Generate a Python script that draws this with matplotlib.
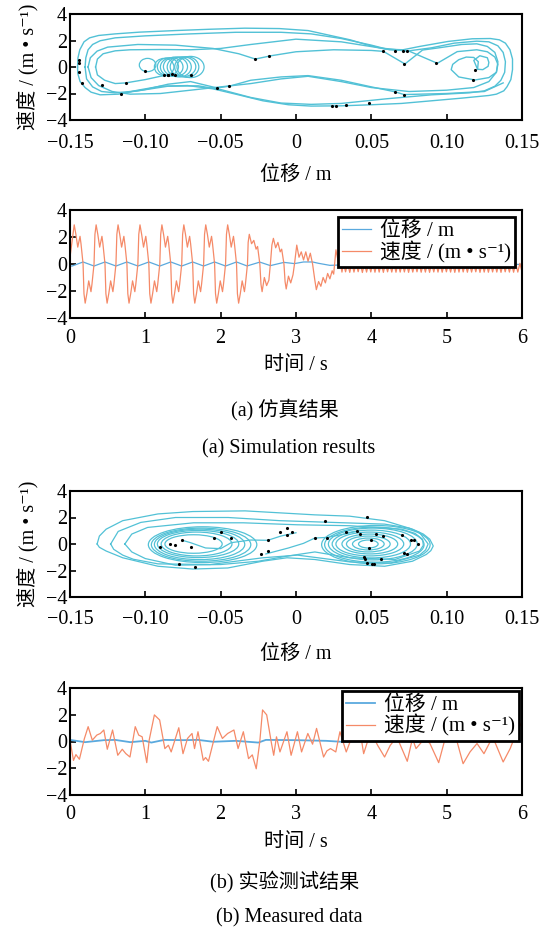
import numpy as np
import matplotlib.pyplot as plt
from matplotlib.patches import Ellipse

plt.rcParams['font.family'] = ['Liberation Serif', 'Noto Sans CJK SC', 'DejaVu Serif']
plt.rcParams['axes.unicode_minus'] = True

cyan = '#52c1d6'
c_disp = '#5aa9de'
c_vel = '#f58a68'

# ---------------- simulated phase portrait (x in m, v in m/s) ----------------
simA_x = [-0.145, -0.1447, -0.1435, -0.1407, -0.137, -0.131, -0.12, -0.104, -0.080, -0.057, -0.034,
          -0.011, 0.008, 0.024, 0.036, 0.047, 0.059, 0.071, 0.082, 0.101, 0.117, 0.129, 0.135, 0.139,
          0.142, 0.1437, 0.1437, 0.1426, 0.14, 0.1379, 0.133, 0.128, 0.11, 0.09, 0.07, 0.05, 0.03, 0.01,
          -0.005, -0.022, -0.04, -0.055, -0.072, -0.09, -0.105, -0.118, -0.13, -0.136, -0.14, -0.1433,
          -0.1448, -0.145]
simA_v = [0.0, 0.7, 1.3, 1.9, 2.2, 2.38, 2.5, 2.63, 2.75, 2.85, 2.93,
          2.9, 2.75, 2.35, 2.05, 1.68, 1.35, 1.3, 1.55, 1.93, 2.13, 2.15, 2.05, 1.8,
          1.3, 0.6, -0.2, -0.95, -1.5, -1.8, -2.05, -2.15, -2.35, -2.55, -2.75, -2.85, -2.93, -2.95,
          -2.85, -2.55, -2.05, -1.65, -1.4, -1.45, -1.75, -2.05, -2.1, -1.9, -1.55, -1.1,
          -0.5, 0.0]

simB_x = [-0.14, -0.1395, -0.138, -0.135, -0.13, -0.12, -0.1, -0.07, -0.04, -0.01, 0.01, 0.03, 0.05,
          0.062, 0.075, 0.09, 0.105, 0.12, 0.128, 0.134, 0.1375, 0.139, 0.1385, 0.136, 0.132, 0.125,
          0.115, 0.09, 0.06, 0.03, 0.01, -0.01, -0.03, -0.05, -0.065, -0.085, -0.105, -0.12, -0.129,
          -0.135, -0.139, -0.14]
simB_v = [0.0, 0.7, 1.3, 1.7, 1.98, 2.2, 2.35, 2.5, 2.62, 2.62, 2.5, 2.15, 1.65,
          1.3, 1.22, 1.45, 1.8, 1.95, 1.9, 1.6, 1.1, 0.4, -0.4, -1.0, -1.45, -1.8,
          -1.95, -2.1, -2.4, -2.75, -2.82, -2.72, -2.3, -1.7, -1.42, -1.45, -1.8, -1.95, -1.85,
          -1.5, -0.9, 0.0]

simC_x = [-0.138, -0.1365, -0.132, -0.125, -0.105, -0.08, -0.055, -0.038, -0.027, -0.0165, 0.0,
          0.025, 0.05, 0.058, 0.0723, 0.084, 0.095, 0.11, 0.12, 0.127, 0.132, 0.134, 0.133, 0.128,
          0.118, 0.1, 0.075, 0.05, 0.03, 0.008, -0.01, -0.03, -0.05, -0.07, -0.09, -0.11, -0.122,
          -0.131, -0.136, -0.138]
simC_v = [0.0, 0.7, 1.2, 1.5, 1.7, 1.65, 1.4, 1.0, 0.6, 0.85, 1.15,
          1.3, 1.25, 1.18, 0.23, 1.28, 1.45, 1.7, 1.75, 1.55, 1.1, 0.4, -0.4, -1.1,
          -1.55, -1.75, -1.85, -1.55, -1.1, -0.7, -0.9, -1.25, -1.5, -1.75, -2.0, -2.05, -1.85,
          -1.4, -0.8, 0.0]

simD_x = [-0.133, -0.1318, -0.128, -0.12, -0.11, -0.09, -0.07, -0.05, -0.03, 0.0, 0.03, 0.055, 0.075,
          0.0938, 0.107, 0.12, 0.127, 0.132, 0.134, 0.133, 0.128, 0.1188, 0.108, 0.103, 0.104, 0.108,
          0.113, 0.118, 0.121, 0.1205]
simD_v = [0.0, 0.6, 1.0, 1.22, 1.3, 1.32, 1.3, 1.4, 1.7, 2.1, 1.9, 1.45, 1.2,
          0.28, 1.16, 1.3, 1.15, 0.75, 0.2, -0.4, -0.8, -0.98, -0.75, -0.2, 0.2, 0.55,
          0.75, 0.72, 0.4, -0.17]

simE_x = [-0.133, -0.1318, -0.127, -0.12, -0.113, -0.1, -0.09, -0.085, -0.08]
simE_v = [0.0, -0.6, -1.0, -1.25, -1.2, -0.95, -0.7, -0.6, -0.55]

simF_x = [-0.1163, -0.1, -0.085, -0.07, -0.0525, -0.0443, -0.03, -0.01, 0.008, 0.03, 0.05, 0.066,
          0.0717, 0.1, 0.125, 0.1375]
simF_v = [-2.0, -1.7, -1.3, -1.1, -1.58, -1.45, -1.0, -0.75, -0.65, -1.0, -1.5, -1.88,
          -2.08, -2.0, -1.85, -1.2]

heart_x = [0.1205, 0.124, 0.1275, 0.128, 0.127, 0.122, 0.118, 0.1205]
heart_v = [-0.17, -0.2, 0.05, 0.35, 0.7, 0.85, 0.5, -0.17]

# intrawell small orbits around x = -0.08
sim_ring_x = [-0.0875, -0.085, -0.0825, -0.08, -0.0775, -0.075, -0.0725, -0.07, -0.0985]
sim_ring_v = [0.0, 0.02, 0.0, 0.03, 0.0, 0.02, 0.0, 0.0, 0.15]
sim_ring_w = [0.013, 0.014, 0.015, 0.016, 0.016, 0.017, 0.016, 0.018, 0.011]
sim_ring_h = [1.3, 1.35, 1.4, 1.45, 1.5, 1.5, 1.55, 1.6, 1.0]

sim_dot_x = [-0.0176, -0.027, 0.0578, 0.066, 0.071, 0.074, 0.0717, 0.0926, 0.1189, 0.1175, 0.066,
             0.0717, 0.0485, 0.0334, 0.0265, 0.0241, -0.0443, -0.0525, -0.0699, -0.0803, -0.082,
             -0.085, -0.0848, -0.0873, -0.1, -0.1128, -0.1163, -0.129, -0.1419, -0.1442, -0.1442,
             -0.1442]
sim_dot_v = [0.85, 0.6, 1.18, 1.22, 1.22, 1.22, 0.22, 0.3, -0.2, -0.98, -1.88,
             -2.08, -2.75, -2.9, -2.95, -2.95, -1.45, -1.58, -0.63, -0.58, -0.55,
             -0.6, -0.63, -0.58, -0.28, -1.2, -2.0, -1.33, -1.2, -0.4, 0.55,
             0.3]

# ---------------- simulated time history ----------------
cycle_start = [0.028, 0.319, 0.61, 0.901, 1.192, 1.483, 1.774, 2.065]
half_period = 0.1455
lobe_dt = [0.012, 0.028, 0.05, 0.075, 0.105, 0.118, 0.1455]
lobe_v = [2.2, 2.9, 2.2, 1.25, 2.05, 1.5, 0.0]

trans_t = [2.365, 2.38, 2.41, 2.44, 2.47, 2.49, 2.52, 2.535, 2.55, 2.58, 2.61, 2.64, 2.66,
           2.68, 2.70, 2.73, 2.76, 2.79, 2.81, 2.84, 2.855, 2.87, 2.90, 2.93, 2.96, 2.98,
           3.01, 3.04, 3.07, 3.10, 3.13, 3.16, 3.19, 3.22, 3.25, 3.27, 3.30, 3.33, 3.36, 3.39,
           3.42, 3.45, 3.48, 3.50, 3.53, 3.56, 3.58, 3.61]
trans_v = [1.6, 2.2, 1.5, 1.75, 1.1, 1.3, 0.0, -1.5, -2.05, -1.0, -1.6, -1.2, 0.0,
           1.4, 1.9, 1.2, 1.6, 0.9, 1.1, 0.0, -1.3, -1.85, -0.9, -1.4, -0.8, 0.0,
           1.4, 0.5, 0.9, 0.3, 0.9, 0.2, 0.8, 0.0, -1.2, -1.9, -1.3, -1.65, -1.0, -1.4,
           -0.7, -1.1, -0.5, -0.75, 1.05, 0.2, 0.5, -0.6]

steady_v = [0.05, -0.58, 0.04, -0.62, 0.06, -0.6, 0.03, -0.57, 0.05, -0.63, 0.04, -0.6,
            0.05, -0.59, 0.03, -0.61, 0.06, -0.6, 0.04, -0.62, 0.05, -0.58, 0.04, -0.6,
            0.05, -0.61, 0.03, -0.6, 0.06, -0.59, 0.04, -0.62, 0.05, -0.6, 0.04, -0.58,
            0.05, -0.61, 0.03, -0.6, 0.05, -0.62, 0.04, -0.59, 0.06, -0.6, 0.04, -0.61,
            0.05, -0.58, 0.03, -0.6, 0.05, -0.62, 0.04, -0.6, 0.06, -0.59, 0.04, -0.61,
            0.05, -0.6, 0.03, -0.58, 0.05, -0.62, 0.04, -0.6, 0.05, -0.61, 0.04, -0.59,
            0.06, -0.6, 0.03, -0.62, 0.05, -0.58, 0.04, -0.6, 0.05, -0.61, 0.04, -0.6,
            0.05, -0.58]
steady_t0, steady_t1 = 3.63, 6.0

trans_xt = [2.35, 2.52, 2.66, 2.84, 2.98, 3.1, 3.22, 3.3, 3.45, 3.55, 3.62]
trans_x = [-0.145, 0.14, -0.12, 0.12, 0.03, 0.15, 0.15, 0.05, -0.1, -0.08, -0.03]
disp_amp = 0.15
steady_x = -0.03

# ---------------- measured phase portrait ----------------
m1_x = [-0.132, -0.1305, -0.126, -0.115, -0.0916, -0.0685, -0.0338, -0.0106, 0.0125, 0.0356, 0.0588,
        0.0773, 0.0845, 0.0888, 0.0911, 0.0895, 0.0865, 0.0773, 0.0588, 0.0356, 0.0125, -0.006,
        -0.0222, -0.0453, -0.0685, -0.0916, -0.115, -0.126, -0.1305, -0.132]
m1_v = [0.0, 0.6, 1.12, 1.76, 2.27, 2.45, 2.5, 2.35, 2.2, 2.1, 1.76,
        1.12, 0.75, 0.36, -0.15, -0.5, -0.79, -1.3, -1.68, -1.55, -1.17, -1.04,
        -1.3, -1.81, -1.89, -1.68, -1.04, -0.53, -0.25, 0.0]
m2_x = [-0.123, -0.118, -0.103, -0.08, -0.045, -0.0106, 0.024, 0.0588, 0.075, 0.082, 0.0877, 0.086,
        0.082, 0.063, 0.0356, 0.001, -0.022, -0.057, -0.0916, -0.108, -0.115, -0.121, -0.123]
m2_v = [0.0, 0.95, 1.63, 2.0, 2.0, 1.76, 1.63, 1.5, 1.2, 0.87, 0.0, -0.45,
        -0.84, -1.43, -1.35, -0.84, -1.04, -1.55, -1.5, -1.15, -0.84, -0.4, 0.0]
m3_x = [-0.1136, -0.109, -0.0985, -0.068, -0.035, 0.001, 0.0356, 0.07, 0.079, 0.084, 0.0845, 0.082,
        0.0657, 0.0356, 0.0125, -0.005, -0.025, -0.05, -0.08, -0.1, -0.109, -0.1136]
m3_v = [0.0, 0.75, 1.25, 1.6, 1.6, 1.45, 1.38, 1.12, 0.8, 0.36, -0.1, -0.53,
        -1.17, -1.04, -0.6, -0.9, -1.3, -1.55, -1.6, -1.1, -0.6, 0.0]
m4_x = [-0.02, -0.005, 0.005, 0.0125, 0.0206, 0.03, 0.04]
m4_v = [-0.75, -0.3, 0.05, 0.45, 0.5, 0.7, 0.95]
m5_x = [-0.0754, -0.07, -0.06, -0.05, -0.043, -0.03, -0.0187, -0.01, 0.0]
m5_v = [0.28, 0.1, -0.3, -0.35, 0.1, 0.3, 0.28, 0.6, 0.85]

m_left_x = [-0.062, -0.063, -0.064, -0.065, -0.066, -0.068]
m_left_v = [-0.05, -0.05, -0.03, 0.0, 0.0, 0.0]
m_left_w = [0.072, 0.066, 0.06, 0.054, 0.047, 0.038]
m_left_h = [2.7, 2.5, 2.3, 2.05, 1.8, 1.4]

m_right_x = [0.053, 0.052, 0.051, 0.05, 0.049, 0.049, 0.048, 0.048, 0.048]
m_right_v = [-0.05, -0.05, 0.0, 0.0, 0.0, 0.0, 0.0, 0.0, 0.0]
m_right_w = [0.072, 0.066, 0.059, 0.052, 0.045, 0.037, 0.029, 0.021, 0.013]
m_right_h = [2.9, 2.65, 2.4, 2.1, 1.8, 1.5, 1.2, 0.9, 0.6]

m_dot_x = [0.047, 0.0194, -0.006, -0.0106, -0.0025, -0.006, -0.05, -0.0546, -0.043, -0.0187,
           -0.0754, -0.0835, -0.0904, -0.08, -0.0696, -0.0777, -0.0673, -0.0234, -0.0187, 0.0125,
           0.0206, 0.0333, 0.0403, 0.0426, 0.053, 0.0576, 0.0703, 0.0761, 0.078, 0.0807, 0.0715,
           0.0738, 0.0564, 0.046, 0.0449, 0.0472, 0.0518, 0.0507, 0.0483, 0.05]
m_dot_v = [2.01, 1.76, 1.2, 0.87, 0.94, 0.66, 0.92, 0.48, 0.48, 0.28,
           0.28, -0.03, -0.2, -0.08, -0.23, -1.5, -1.76, -0.74, -0.53, 0.48,
           0.48, 0.87, 0.99, 0.79, 0.79, 0.61, 0.69, 0.28, 0.28, -0.03, -0.66,
           -0.74, -1.1, -1.1, -0.99, -1.43, -1.48, -1.48, -0.33, 0.28]

# ---------------- measured time history ----------------
meas_t = [0.0, 0.046, 0.079, 0.125, 0.19, 0.241, 0.296, 0.356, 0.403, 0.449, 0.495, 0.565, 0.634,
          0.694, 0.74, 0.796, 0.866, 0.912, 0.958, 1.019, 1.051, 1.12, 1.19, 1.259, 1.306, 1.343,
          1.444, 1.5, 1.56, 1.62, 1.653, 1.699, 1.769, 1.8, 1.838, 1.954, 2.023, 2.093, 2.176, 2.231,
          2.301, 2.37, 2.42, 2.472, 2.519, 2.556, 2.611, 2.671, 2.704, 2.741, 2.787, 2.88, 2.935,
          3.019, 3.074, 3.157, 3.22, 3.273, 3.366, 3.41, 3.458, 3.528, 3.583, 3.667, 3.759, 3.81,
          3.852, 3.898, 3.991, 4.083, 4.176, 4.25, 4.338, 4.477, 4.546, 4.593, 4.708, 4.778, 4.894,
          4.986, 5.102, 5.218, 5.31, 5.403, 5.495, 5.611, 5.75, 5.843, 5.912, 6.0]
meas_v = [0.1, -1.41, -0.98, -1.33, 0.2, 1.11, 0.1, 0.48, 0.6, 0.86, -0.58, 0.86, -1.03,
          -0.58, -0.9, -1.16, 1.11, 0.48, 0.35, -1.58, 0.1, 1.99, 1.61, -0.53, -0.28, -0.78,
          1.03, -0.91, 0.23, 0.6, -0.53, 0.73, -1.41, -1.2, -1.48, 1.11, 0.23, 0.6, 0.86, -0.53,
          0.73, -1.28, -1.0, -2.04, -0.03, 2.36, 1.99, -0.03, -1.03, 0.35, -0.78, 0.73, -1.03,
          0.73, -0.78, 0.6, -0.2, 0.98, -1.16, -0.7, -0.53, -0.78, 0.73, -0.78, 0.6, 0.1,
          0.73, -0.91, 0.73, -0.28, -1.16, -0.3, 0.35, -1.48, 0.23, -0.53, 0.23, -0.15, -1.58,
          0.35, 0.73, -1.66, -0.78, -0.15, -0.91, 0.35, -1.53, -0.53, 0.48, 1.48]
meas_xt = [0.0, 0.2, 0.45, 0.6, 0.8, 1.0, 1.08, 1.25, 1.5, 1.7, 1.9, 2.2, 2.5, 2.6, 3.0, 3.4, 3.6,
           4.0, 4.3, 4.6, 5.0, 5.3, 5.6, 6.0]
meas_x = [0.12, -0.05, 0.1, 0.12, -0.05, 0.05, -0.08, 0.12, 0.1, 0.12, -0.02, 0.05, -0.08, 0.12,
          0.1, 0.05, -0.02, 0.05, 0.1, -0.05, 0.1, 0.05, 0.1, 0.0]

# build the simulated time history from the values read above
sim_t, sim_v = [0.0], [0.5]
sim_xt, sim_x = [0.0], [-0.14]
for s in cycle_start:
    for sign, off in [(1, 0.0), (-1, half_period)]:
        for dt, val in zip(lobe_dt, lobe_v):
            sim_t.append(s + off + dt)
            sim_v.append(sign * val)
    sim_xt += [s, s + half_period]
    sim_x += [-disp_amp, disp_amp]
sim_t += trans_t
sim_v += trans_v
sim_xt += trans_xt
sim_x += trans_x
st = np.linspace(steady_t0, steady_t1, len(steady_v))
sim_t += list(st)
sim_v += steady_v
sim_xt += [steady_t1]
sim_x += [steady_x]

fig = plt.figure(figsize=(5.51, 9.34), dpi=100)
W, H = 551, 934
FS = 14.5


def add_ax(l, r, t, b):
    return fig.add_axes([l / W, 1 - b / H, (r - l) / W, (b - t) / H])


def style(ax, xlim, xticks, xlabels, xlabel, tpad, xpad):
    ax.set_xlim(*xlim)
    ax.set_ylim(-4, 4)
    ax.set_xticks(xticks)
    ax.set_xticklabels(xlabels)
    ax.set_yticks([-4, -2, 0, 2, 4])
    ax.set_yticklabels(['\u22124', '\u22122', '0', '2', '4'])
    ax.tick_params(direction='in', length=4, width=1.2, labelsize=FS, top=False, right=False)
    ax.tick_params(axis='x', pad=tpad)
    ax.tick_params(axis='y', pad=2)
    for sp in ax.spines.values():
        sp.set_linewidth(1.5)
    ax.set_xlabel(xlabel, fontsize=FS, labelpad=xpad)


def legend(ax, pad):
    leg = ax.legend(loc='upper right', fontsize=15, frameon=True, fancybox=False, framealpha=1,
                    edgecolor='black', handlelength=1.4, borderpad=0.2, labelspacing=0.0,
                    borderaxespad=pad, handletextpad=0.4)
    leg.get_frame().set_linewidth(2.0)


px_ticks = [-0.15, -0.10, -0.05, 0, 0.05, 0.10, 0.15]
px_labels = ['\u22120.15', '\u22120.10', '\u22120.05', '0', '0.05', '0.10', '0.15']
vlabel = '速度 / (m • s\u207b\u00b9)'

# panel 1
ax1 = add_ax(70, 522, 14, 120)
for xs, vs in [(simA_x, simA_v), (simB_x, simB_v), (simC_x, simC_v), (simD_x, simD_v),
               (simE_x, simE_v), (simF_x, simF_v), (heart_x, heart_v)]:
    ax1.plot(xs, vs, color=cyan, lw=1.0)
for cx, cv, w, h in zip(sim_ring_x, sim_ring_v, sim_ring_w, sim_ring_h):
    ax1.add_patch(Ellipse((cx, cv), w, h, fill=False, edgecolor=cyan, lw=0.9))
ax1.plot(sim_dot_x, sim_dot_v, 'k.', ms=2.5)
style(ax1, (-0.15, 0.15), px_ticks, px_labels, '位移 / m', 10, 9)
ax1.set_ylabel(vlabel, fontsize=FS, labelpad=5)

# panel 2
ax2 = add_ax(70, 522, 210, 318)
ax2.plot(sim_xt, sim_x, color=c_disp, lw=0.9, label='位移 / m')
ax2.plot(sim_t, sim_v, color=c_vel, lw=0.9, label=vlabel)
style(ax2, (0, 6), range(7), [str(i) for i in range(7)], '时间 / s', 8, 6)
legend(ax2, 0.35)

fig.text(285 / W, 1 - 410 / H, '(a) 仿真结果', ha='center', va='center', fontsize=FS)
fig.text(289 / W, 1 - 449 / H, '(a) Simulation results', ha='center', va='center', fontsize=FS)

# panel 3
ax3 = add_ax(70, 522, 491, 597)
for xs, vs in [(m1_x, m1_v), (m2_x, m2_v), (m3_x, m3_v), (m4_x, m4_v), (m5_x, m5_v)]:
    ax3.plot(xs, vs, color=cyan, lw=0.9)
for cx, cv, w, h in zip(m_left_x + m_right_x, m_left_v + m_right_v, m_left_w + m_right_w,
                        m_left_h + m_right_h):
    ax3.add_patch(Ellipse((cx, cv), w, h, fill=False, edgecolor=cyan, lw=0.9))
ax3.plot(m_dot_x, m_dot_v, 'k.', ms=2.5)
style(ax3, (-0.15, 0.15), px_ticks, px_labels, '位移 / m', 9, 12)
ax3.set_ylabel(vlabel, fontsize=FS, labelpad=5)

# panel 4
ax4 = add_ax(70, 522, 688, 795)
ax4.plot(meas_xt, meas_x, color=c_disp, lw=1.3, label='位移 / m')
ax4.plot(meas_t, meas_v, color=c_vel, lw=0.9, label=vlabel)
style(ax4, (0, 6), range(7), [str(i) for i in range(7)], '时间 / s', 7, 7)
legend(ax4, 0.15)

fig.text(285 / W, 1 - 882 / H, '(b) 实验测试结果', ha='center', va='center', fontsize=FS)
fig.text(289 / W, 1 - 918 / H, '(b) Measured data', ha='center', va='center', fontsize=FS)

fig.savefig('out.png', dpi=100)
